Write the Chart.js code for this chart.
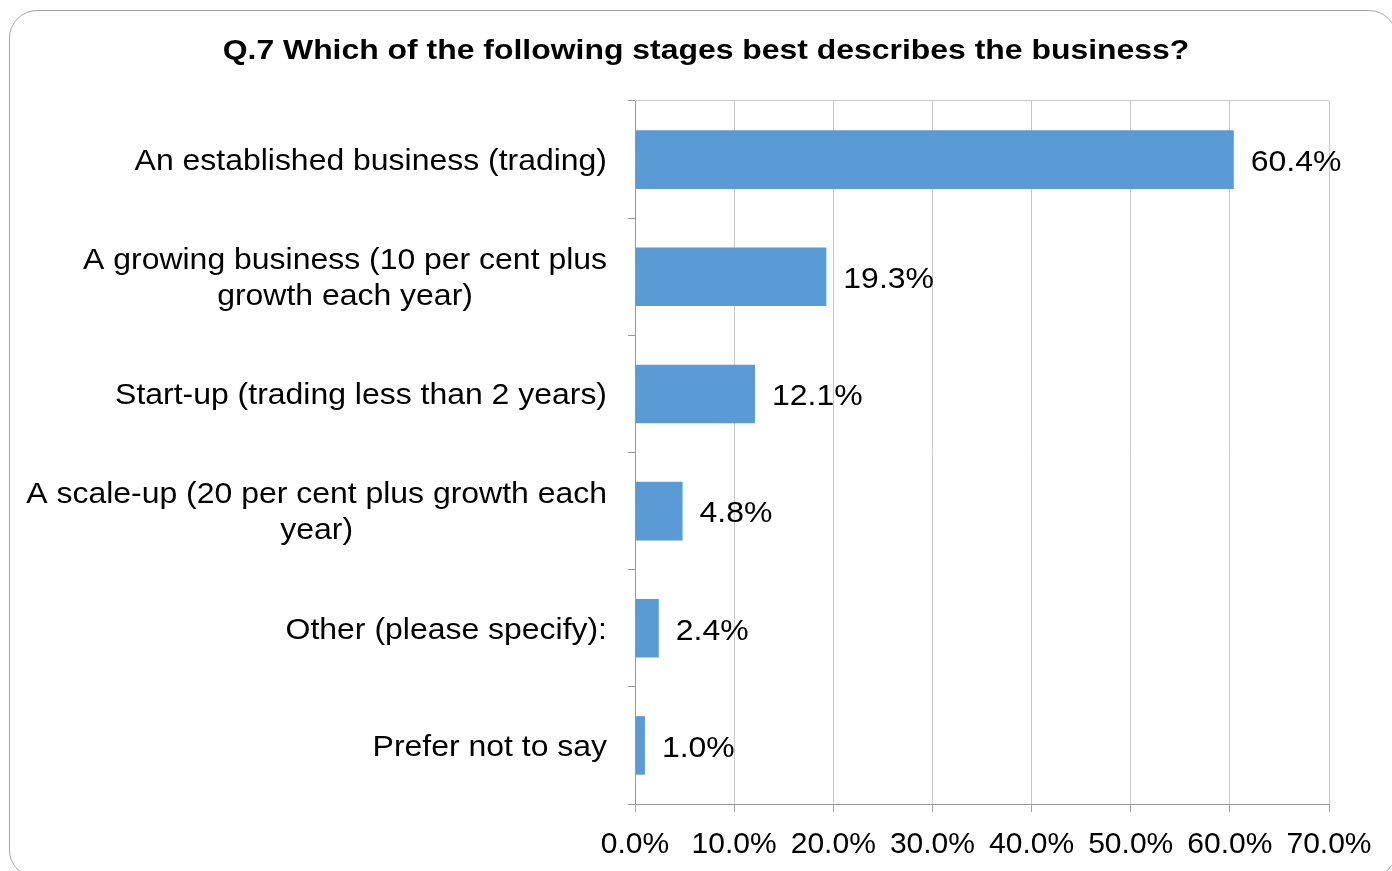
<!DOCTYPE html>
<html>
<head>
<meta charset="utf-8">
<script src="https://cdn.jsdelivr.net/npm/chart.js@4/dist/chart.umd.min.js"></script>
<style>
  html, body { margin: 0; padding: 0; background: #fff; overflow: hidden; }
  .frame {
    position: absolute; left: 9px; top: 10px; width: 1388px; height: 868px;
    border: 1.5px solid #a3a3a3; border-radius: 28px; box-sizing: border-box;
  }
  #bars { position: absolute; left: 0; top: 0; }
</style>
</head>
<body>
<div class="frame"></div>
<canvas id="bars" width="1392" height="871"></canvas>
<script>
var title = 'Q.7 Which of the following stages best describes the business?';
var categories = [
    ['An established business (trading)'],
    ['A growing business (10 per cent plus', 'growth each year)'],
    ['Start-up (trading less than 2 years)'],
    ['A scale-up (20 per cent plus growth each', 'year)'],
    ['Other (please specify):'],
    ['Prefer not to say']
];
var shares = [60.4, 19.3, 12.1, 4.8, 2.4, 1.0];
var axisMin = 0, axisMax = 70, axisStep = 10;

var FONT = "'Liberation Sans', Arial, sans-serif";

// text drawn a little wider than the font's natural width
function wideText(ctx, text, x, y, align, stretch) {
    var w = ctx.measureText(text).width * stretch;
    var left = align === 'center' ? x - w / 2 : align === 'right' ? x - w : x;
    ctx.save();
    ctx.translate(left, y);
    ctx.scale(stretch, 1);
    ctx.textAlign = 'left';
    ctx.fillText(text, 0, 0);
    ctx.restore();
}

var headline = {
    id: 'headline',
    afterDraw: function (chart) {
        var ctx = chart.ctx;
        ctx.save();
        ctx.font = 'bold 28px ' + FONT;
        ctx.fillStyle = '#000';
        ctx.textBaseline = 'middle';
        wideText(ctx, title, 706, 51, 'center', 1.14);
        ctx.restore();
    }
};

// category names: block right-aligned to the axis, lines centred inside the block
var categoryLabels = {
    id: 'categoryLabels',
    afterDraw: function (chart) {
        var ctx = chart.ctx, y = chart.scales.y;
        var right = y.right - 28, lh = 36, k = 1.065;
        ctx.save();
        ctx.font = '30px ' + FONT;
        ctx.fillStyle = '#000';
        ctx.textBaseline = 'middle';
        categories.forEach(function (lines, i) {
            var w = Math.max.apply(null, lines.map(function (t) { return ctx.measureText(t).width; })) * k;
            var cx = right - w / 2;
            var cy = y.getPixelForTick(i) + 2 - (lines.length - 1) * lh / 2;
            lines.forEach(function (t, j) { wideText(ctx, t, cx, cy + j * lh, 'center', k); });
        });
        ctx.restore();
    }
};

// value at the end of each bar
var valueLabels = {
    id: 'valueLabels',
    afterDatasetsDraw: function (chart) {
        var ctx = chart.ctx;
        ctx.save();
        ctx.font = '30px ' + FONT;
        ctx.fillStyle = '#000';
        ctx.textBaseline = 'middle';
        chart.getDatasetMeta(0).data.forEach(function (bar, i) {
            wideText(ctx, shares[i].toFixed(1) + '%', bar.x + 17, bar.y + 3, 'left', 1.065);
        });
        ctx.restore();
    }
};

var ctx = document.getElementById('bars').getContext('2d');
var chart = new Chart(ctx, {
    type: 'bar',
    data: {
        labels: categories,
        datasets: [{
            data: shares,
            backgroundColor: 'rgb(91, 155, 213)',
            borderWidth: 0,
            barPercentage: 0.5,
            categoryPercentage: 1.0
        }]
    },
    options: {
        indexAxis: 'y',
        responsive: false,
        animation: false,
        layout: { padding: { left: 83, right: 63, top: 101, bottom: 0 } },
        plugins: {
            legend: { display: false },
            tooltip: { enabled: false },
            title: { display: false }
        },
        scales: {
            x: {
                min: axisMin,
                max: axisMax,
                ticks: {
                    stepSize: axisStep,
                    color: '#000',
                    padding: 15,
                    font: { family: FONT, size: 30, lineHeight: 1.2 },
                    maxRotation: 0,
                    autoSkip: false,
                    callback: function (v) { return v.toFixed(1) + '%'; }
                },
                grid: { color: '#c8c8c8', tickColor: '#a6a6a6', tickLength: 8 },
                border: { color: '#999' },
                afterFit: function (s) { s.height = 67; }
            },
            y: {
                ticks: { display: false },
                grid: {
                    offset: true,
                    tickLength: 7,
                    tickColor: '#999',
                    color: function (c) { return c.index === 0 ? '#c8c8c8' : 'rgba(0,0,0,0)'; }
                },
                border: { color: '#999' },
                afterFit: function (s) { s.width = 552; }
            }
        }
    },
    plugins: [headline, categoryLabels, valueLabels]
});
</script>
</body>
</html>
